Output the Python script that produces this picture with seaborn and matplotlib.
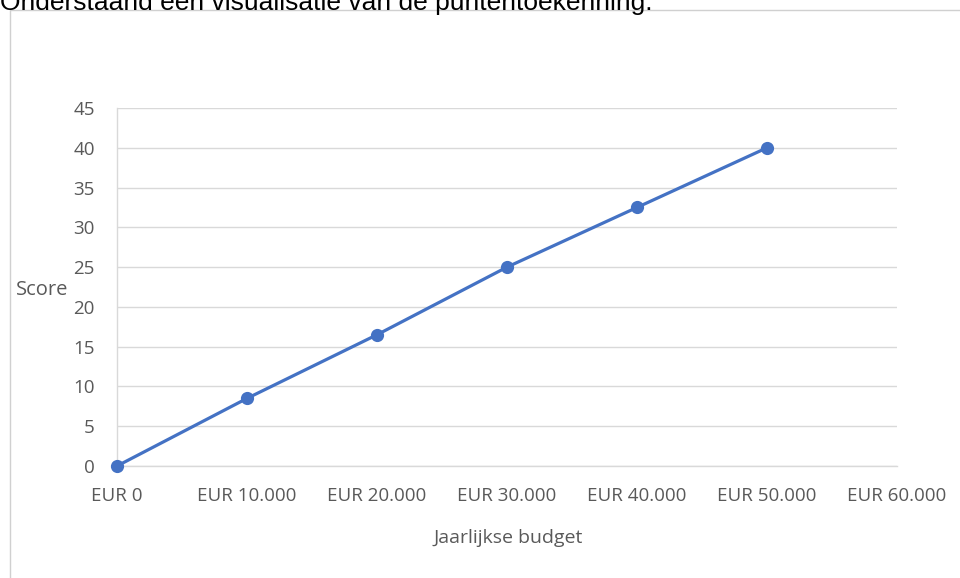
import matplotlib
matplotlib.use("Agg")
import matplotlib.pyplot as plt
from matplotlib.lines import Line2D
import seaborn as sns
import pandas as pd

budget = [0, 10000, 20000, 30000, 40000, 50000]
score = [0, 8.5, 16.5, 25, 32.5, 40]
xticks = [0, 10000, 20000, 30000, 40000, 50000, 60000]
xticklabels = ["EUR 0", "EUR 10.000", "EUR 20.000", "EUR 30.000", "EUR 40.000", "EUR 50.000", "EUR 60.000"]
yticks = [0, 5, 10, 15, 20, 25, 30, 35, 40, 45]

sns.set_theme(style="white")
plt.rcParams["font.family"] = ["Open Sans", "DejaVu Sans"]

W, H = 960, 578
fig = plt.figure(figsize=(W / 100, H / 100), dpi=100)
ax = fig.add_axes([117 / W, 1 - 466 / H, (897 - 117) / W, (466 - 108) / H])

df = pd.DataFrame({"budget": budget, "score": score})
sns.lineplot(data=df, x="budget", y="score", ax=ax, color="#4472C4", linewidth=2.3,
             marker="o", markersize=9.5, markeredgewidth=0, clip_on=False, zorder=5)

ax.set_xlim(0, 60000)
ax.set_ylim(0, 45)
ax.set_xticks(xticks)
ax.set_xticklabels(xticklabels)
ax.set_yticks(yticks)
grey = "#595959"
ax.tick_params(axis="both", colors="#d9d9d9", labelcolor=grey, length=6, width=1, direction="out")
ax.tick_params(axis="x", labelsize=13.5, pad=9)
ax.tick_params(axis="y", labelsize=13.5, pad=10)
ax.grid(axis="y", color="#d9d9d9", linewidth=1)
ax.grid(axis="x", visible=False)
for s in ["top", "right"]:
    ax.spines[s].set_visible(False)
for s in ["left", "bottom"]:
    ax.spines[s].set_color("#d9d9d9")
    ax.spines[s].set_linewidth(1)

ax.set_xlabel("")
ax.set_ylabel("")
fig.text(508 / W, 1 - 538 / H, "Jaarlijkse budget", ha="center", va="center", color=grey, fontsize=14)
fig.text(16 / W, 1 - 290 / H, "Score", ha="left", va="center", color=grey, fontsize=14.5)

# outer frame
fig.add_artist(Line2D([10 / W, 10 / W], [0, 1 - 10 / H], transform=fig.transFigure, color="#d0d0d0", linewidth=1))
fig.add_artist(Line2D([10 / W, 1], [1 - 10 / H, 1 - 10 / H], transform=fig.transFigure, color="#d0d0d0", linewidth=1))

# cut-off title text
fig.text(0, 1 - 10 / H, "Onderstaand een visualisatie van de puntentoekenning.", ha="left", va="baseline",
         color="black", fontsize=19, family=["Liberation Sans", "DejaVu Sans"])

fig.savefig("out.png", dpi=100)
